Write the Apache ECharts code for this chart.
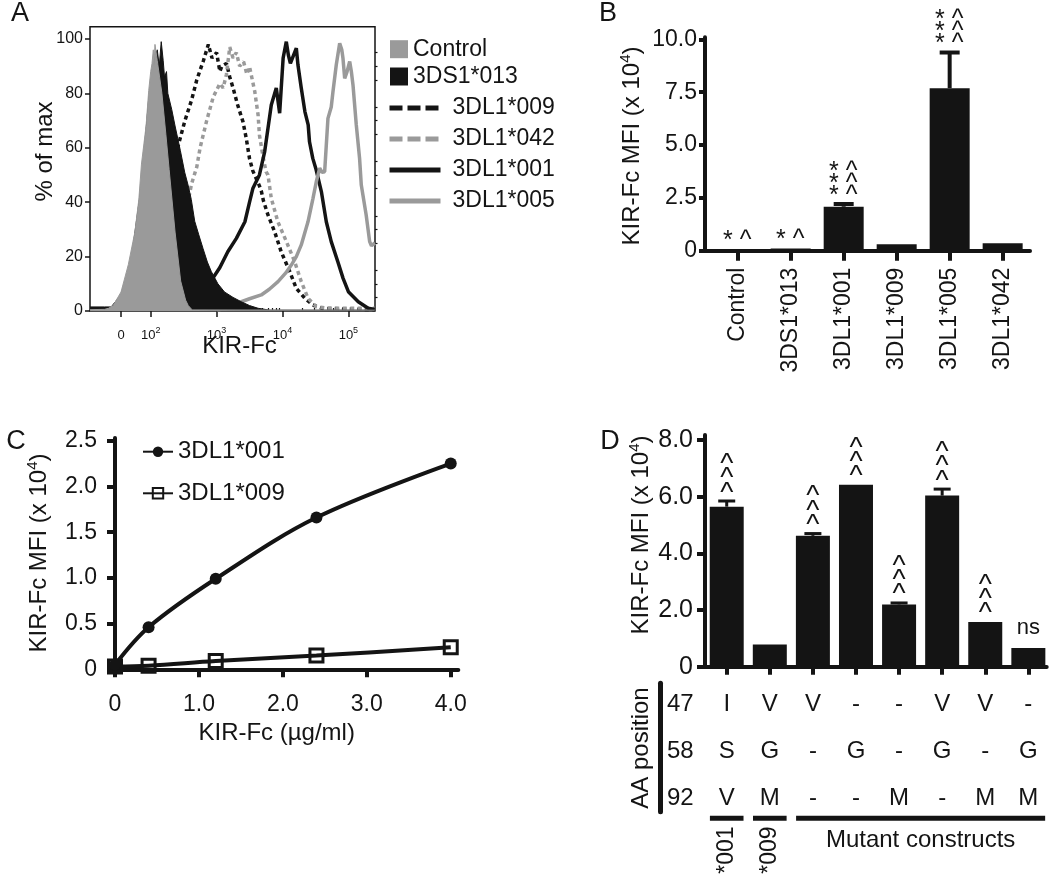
<!DOCTYPE html>
<html><head><meta charset="utf-8">
<script src="https://cdn.jsdelivr.net/npm/echarts@6/dist/echarts.min.js"></script>
<style>html,body{margin:0;padding:0;background:#fff}#c{width:1050px;height:875px}</style>
</head><body><div id="c"></div><script>
const FONT = '"Liberation Sans", Arial, Helvetica, sans-serif';
const INK = '#141414', GRAY = '#9a9a9a';

// ---------- Panel A: histograms (x in display decades of a logicle scale, y = % of max)
const A_ZERO = 1.55;
const A_XMAJOR = [A_ZERO, 2, 3, 4, 5];
const A_XLABEL_BASE = ['0', '10', '10', '10', '10'];
const A_XLABEL_EXP = ['', '2', '3', '4', '5'];
const A_XMINOR = [1.2, 1.35, 1.72, 1.87,
  2.301, 2.477, 2.602, 2.699, 2.778, 2.845, 2.903, 2.954,
  3.301, 3.477, 3.602, 3.699, 3.778, 3.845, 3.903, 3.954,
  4.301, 4.477, 4.602, 4.699, 4.778, 4.845, 4.903, 4.954, 5.301];
const A_YTICKS = [0, 20, 40, 60, 80, 100];
const A_YMINOR = [5, 10, 15, 25, 30, 35, 45, 50, 55, 65, 70, 75, 85, 90, 95];
const A_CONTROL = [[1.08,0.5],[1.30,0.6],[1.36,1],[1.43,2],[1.55,7],[1.66,17],[1.76,29],[1.82,41],[1.86,54],[1.93,68],[1.97,81],[2.00,88],[2.02,91],[2.04,96],[2.05,90],[2.065,98],[2.10,92],[2.17,80],[2.23,65],[2.28,52],[2.37,29],[2.455,11],[2.53,4],[2.57,2],[2.63,0.4],[5.40,0.3]];
const A_3DS1 = [[1.08,1.5],[1.30,1.5],[1.40,1.5],[1.55,6],[1.70,18],[1.85,45],[1.97,78],[2.06,93],[2.10,96],[2.13,90],[2.16,99],[2.19,92],[2.21,86],[2.24,88],[2.26,80],[2.32,74],[2.37,68],[2.45,59],[2.516,51],[2.57,46],[2.616,41],[2.668,33],[2.73,28],[2.794,23],[2.86,18],[2.92,14.5],[3.02,10],[3.12,7],[3.25,5],[3.375,3.4],[3.5,2],[3.63,1],[3.81,0.3],[5.40,0.3]];
const A_009 = [[2.0,0.5],[2.14,6],[2.24,21],[2.32,34],[2.344,45],[2.42,61],[2.52,70],[2.62,77.5],[2.70,85],[2.80,92],[2.875,98],[2.93,93],[3.00,95],[3.05,88],[3.08,90],[3.15,91],[3.20,86],[3.25,82],[3.32,75.7],[3.40,69.6],[3.45,63.5],[3.50,56],[3.55,51.5],[3.65,46],[3.68,44],[3.71,40.6],[3.78,35.3],[3.88,29.2],[3.98,21.8],[4.11,14.5],[4.21,8.3],[4.34,4.7],[4.46,2.2],[4.6,1],[5.40,0.5]];
const A_042 = [[2.1,0.5],[2.3,5],[2.45,20],[2.57,40.6],[2.62,46.7],[2.70,53],[2.75,60],[2.85,70],[2.95,78.7],[3.05,83.6],[3.10,82],[3.15,87],[3.20,97],[3.25,93],[3.30,95],[3.35,90],[3.41,91.6],[3.46,87],[3.50,89.8],[3.58,80.6],[3.63,72],[3.65,64.7],[3.70,57.4],[3.75,51.2],[3.78,50],[3.83,41.4],[3.93,32.8],[4.06,25.5],[4.185,18.1],[4.285,10.8],[4.387,4.7],[4.51,1.6],[4.7,1],[5.40,1]];
const A_001 = [[2.6,1],[2.75,2.5],[2.85,6],[2.95,12.3],[3.05,16],[3.17,21.8],[3.30,26.7],[3.43,32.8],[3.50,40],[3.55,45],[3.60,47.5],[3.65,50],[3.73,58.6],[3.78,67.2],[3.83,75.7],[3.906,82],[3.957,72.7],[4.01,93],[4.058,99],[4.09,94],[4.12,91],[4.15,90.4],[4.21,96.6],[4.235,90.4],[4.285,82],[4.34,73.3],[4.39,68.4],[4.41,62.2],[4.46,56.1],[4.51,52],[4.59,43.9],[4.665,32.8],[4.74,25.5],[4.84,18.1],[4.92,12],[5.0,7.1],[5.15,3.4],[5.30,1],[5.40,0.6]];
const A_005 = [[3.0,0.5],[3.2,1],[3.375,3.4],[3.5,4.5],[3.678,5.9],[3.8,8],[3.932,10.8],[4.05,14],[4.134,16.9],[4.21,20],[4.285,24.3],[4.387,32.8],[4.463,41.4],[4.513,47.5],[4.564,52.5],[4.60,51],[4.64,51.2],[4.69,70.8],[4.74,75],[4.766,80.6],[4.79,80],[4.816,90.4],[4.868,98.4],[4.90,96],[4.918,92.9],[4.944,85.5],[4.98,88],[5.02,91.7],[5.045,88],[5.07,83.1],[5.12,68.4],[5.17,56.1],[5.196,46.3],[5.27,35.3],[5.323,25.5],[5.35,24],[5.404,25]];

// ---------- Panel B
const B_CATS = ['Control', '3DS1*013', '3DL1*001', '3DL1*009', '3DL1*005', '3DL1*042'];
const B_MFI = [0.06, 0.11, 2.08, 0.30, 7.69, 0.35];
const B_SEM = [0, 0, 0.13, 0, 1.69, 0];
const B_STARS = ['*', '*', '***', '', '***', ''];
const B_CARETS = ['^', '^', '^^^', '', '^^^', ''];
const B_YTICKS = [0, 2.5, 5, 7.5, 10];

// ---------- Panel C
const C_DOSE = [0, 0.4, 1.2, 2.4, 4.0];
const C_001 = [0.05, 0.46, 0.99, 1.66, 2.25];
const C_009 = [0.03, 0.04, 0.09, 0.15, 0.24];
const C_XTICKS = [0, 1, 2, 3, 4];
const C_YTICKS = [0, 0.5, 1, 1.5, 2, 2.5];

// ---------- Panel D
const D_MFI = [5.65, 0.78, 4.62, 6.42, 2.2, 6.04, 1.58, 0.66];
const D_SEM = [0.2, 0, 0.08, 0, 0.05, 0.23, 0, 0];
const D_SIG = ['^^^', '', '^^^', '^^^', '^^^', '^^^', '^^^', 'ns'];
const D_YTICKS = [0, 2, 4, 6, 8];
const AA_POS = ['47', '58', '92'];
const AA_47 = ['I', 'V', 'V', '-', '-', 'V', 'V', '-'];
const AA_58 = ['S', 'G', '-', 'G', '-', 'G', '-', 'G'];
const AA_92 = ['V', 'M', '-', '-', 'M', '-', 'M', 'M'];
const GROUPS = [
  {label: '*001', from: 0, to: 0, rotate: true},
  {label: '*009', from: 1, to: 1, rotate: true},
  {label: 'Mutant constructs', from: 2, to: 7, rotate: false}
];

const fmt1 = v => v === 0 ? '0' : v.toFixed(1);
const base = {fontFamily: FONT, color: INK};
const idxOf = (arr, v) => arr.findIndex(a => Math.abs(a - v) < 1e-6);

function errRender(cap, lw) {
  return function (params, api) {
    const x = api.value(0), v = api.value(1), e = api.value(2);
    if (!(e > 0)) return null;
    const p0 = api.coord([x, v]), p1 = api.coord([x, v + e]);
    const st = {stroke: INK, lineWidth: lw};
    return {type: 'group', children: [
      {type: 'line', shape: {x1: p0[0], y1: p0[1], x2: p1[0], y2: p1[1]}, style: st},
      {type: 'line', shape: {x1: p1[0] - cap / 2, y1: p1[1], x2: p1[0] + cap / 2, y2: p1[1]}, style: st}
    ]};
  };
}

function bSigRender(params, api) {
  const i = params.dataIndex;
  const s = B_STARS[i], c = B_CARETS[i];
  if (!s && !c) return null;
  const p = api.coord([api.value(0), api.value(1)]);
  const n = Math.max(s.length, c.length), lines = [];
  for (let k = 0; k < n; k++) lines.push((s[k] || ' ') + ' ' + (c[k] || ' '));
  return {type: 'text', x: p[0] - 0.5, y: p[1] - 2, style: {
    text: lines.join('\n'), fontSize: 25, lineHeight: 12, fontFamily: FONT, fill: INK,
    align: 'center', verticalAlign: 'bottom'}};
}

function dSigRender(params, api) {
  const t = D_SIG[params.dataIndex];
  if (!t) return null;
  const p = api.coord([api.value(0), api.value(1)]);
  if (/^\^+$/.test(t)) {
    return {type: 'text', x: p[0], y: p[1] - 1, style: {
      text: t.split('').join('\n'), fontSize: 28, lineHeight: 14.4, fontFamily: FONT, fill: INK,
      align: 'center', verticalAlign: 'bottom'}};
  }
  return {type: 'text', x: p[0], y: p[1] - 20, style: {
    text: t, fontSize: 22, fontFamily: FONT, fill: INK, align: 'center', verticalAlign: 'middle'}};
}

const TABLE_CELLS = [];
[AA_47, AA_58, AA_92].forEach((row, r) => row.forEach((t, k) => TABLE_CELLS.push({k, r, t})));

function cellRender(params, api) {
  const c = TABLE_CELLS[params.dataIndex];
  const p = api.coord([api.value(0), api.value(1)]);
  return {type: 'text', x: p[0], y: p[1], style: {text: c.t, fontSize: 24, fontFamily: FONT, fill: INK,
    align: 'center', verticalAlign: 'middle'}};
}

const GROUP_LINE_Y = 2.435, GROUP_LABEL_Y = 2.61, GROUP_TEXT_Y = 2.9;
function groupRender(params, api) {
  const g = GROUPS[params.dataIndex];
  const a = api.coord([g.from - 0.39, GROUP_LINE_Y]), b = api.coord([g.to + 0.39, GROUP_LINE_Y]);
  const mid = (g.from + g.to) / 2;
  const children = [{type: 'line', shape: {x1: a[0], y1: a[1], x2: b[0], y2: b[1]}, style: {stroke: INK, lineWidth: 5}}];
  if (g.rotate) {
    const q = api.coord([mid, GROUP_LABEL_Y]);
    children.push({type: 'text', x: q[0], y: q[1], rotation: Math.PI / 2, style: {text: g.label, fontSize: 23,
      fontFamily: FONT, fill: INK, align: 'right', verticalAlign: 'middle'}});
  } else {
    const qq = api.coord([mid, GROUP_TEXT_Y]);
    children.push({type: 'text', x: (a[0] + b[0]) / 2, y: qq[1], style: {text: g.label, fontSize: 24,
      fontFamily: FONT, fill: INK, align: 'center', verticalAlign: 'middle'}});
  }
  return {type: 'group', children};
}

const supRich = {
  a: {fontSize: 24, lineHeight: 26, verticalAlign: 'bottom', fontFamily: FONT, color: INK},
  s: {fontSize: 15, lineHeight: 15, verticalAlign: 'top', fontFamily: FONT, color: INK}
};
function gText(x, y, text, size, rot, rich) {
  const el = {type: 'text', x, y, rotation: rot || 0, z: 10,
    style: {text, fontSize: size, fontFamily: FONT, fill: INK, align: 'center', verticalAlign: 'middle'}};
  if (rich) el.style.rich = rich;
  return el;
}
const MFI_TITLE = '{a|KIR-Fc MFI (x 10}{s|4}{a|)}';

const thick = w => ({lineStyle: {color: INK, width: w}});
const noSym = {opacity: 0};

const option = {
  animation: false,
  backgroundColor: '#fff',
  textStyle: {fontFamily: FONT},
  grid: [
    {left: 90, top: 26.7, width: 285, height: 284.3, show: true, borderColor: INK, borderWidth: 1.5, outerBoundsMode: 'none', containLabel: false},
    {left: 705, top: 37.3, width: 325, height: 213.4, outerBoundsMode: 'none', containLabel: false},
    {left: 115, top: 438, width: 343.3, height: 231.3, outerBoundsMode: 'none', containLabel: false},
    {left: 705, top: 435, width: 341.7, height: 231.7, outerBoundsMode: 'none', containLabel: false},
    {left: 705, top: 683.3, width: 341.7, height: 128.4, outerBoundsMode: 'none', containLabel: false}
  ],
  xAxis: [
    {gridIndex: 0, type: 'value', min: 1.079, max: 5.404, axisLine: {show: false}, splitLine: {show: false},
      axisTick: {customValues: A_XMAJOR, length: 6, lineStyle: {color: INK, width: 1.5}},
      axisLabel: {customValues: A_XMAJOR, margin: 15,
        formatter: v => { const i = idxOf(A_XMAJOR, v); return A_XLABEL_EXP[i] ? '{b|' + A_XLABEL_BASE[i] + '}{s|' + A_XLABEL_EXP[i] + '}' : '{b|' + A_XLABEL_BASE[i] + '}'; },
        rich: {b: {fontSize: 13, lineHeight: 16, verticalAlign: 'bottom', fontFamily: FONT, color: INK},
               s: {fontSize: 9, lineHeight: 9, verticalAlign: 'top', fontFamily: FONT, color: INK}}}},
    {gridIndex: 0, type: 'value', min: 1.079, max: 5.404, axisLine: {show: false}, splitLine: {show: false},
      axisTick: {customValues: A_XMINOR, length: 3, lineStyle: {color: INK, width: 1.2}}, axisLabel: {show: false}},
    {gridIndex: 1, type: 'value', min: -0.617, max: 5.516, splitLine: {show: false},
      axisLine: thick(4), axisTick: {customValues: [0, 1, 2, 3, 4, 5], length: 10, lineStyle: {color: INK, width: 4}},
      axisLabel: {customValues: [0, 1, 2, 3, 4, 5], formatter: v => B_CATS[Math.round(v)], rotate: 90, margin: 17, fontSize: 23, ...base}},
    {gridIndex: 2, type: 'value', min: 0, max: 4.09, splitLine: {show: false},
      axisLine: thick(4), axisTick: {customValues: C_XTICKS, length: 8, lineStyle: {color: INK, width: 4}},
      axisLabel: {customValues: C_XTICKS, formatter: fmt1, margin: 24, fontSize: 23, ...base}},
    {gridIndex: 3, type: 'value', min: -0.504, max: 7.426, splitLine: {show: false},
      axisLine: thick(4), axisTick: {customValues: [0, 1, 2, 3, 4, 5, 6, 7], length: 8, lineStyle: {color: INK, width: 4}},
      axisLabel: {show: false}},
    {gridIndex: 4, type: 'value', min: -0.504, max: 7.426, show: false}
  ],
  yAxis: [
    {gridIndex: 0, type: 'value', min: 0, max: 104.5, axisLine: {show: false}, splitLine: {show: false},
      axisTick: {customValues: A_YTICKS, length: 5, lineStyle: {color: INK, width: 1.5}},
      axisLabel: {customValues: A_YTICKS, margin: 7, fontSize: 16, ...base}},
    {gridIndex: 0, type: 'value', min: 0, max: 104.5, axisLine: {show: false}, splitLine: {show: false},
      axisTick: {customValues: A_YMINOR, length: 2.5, lineStyle: {color: INK, width: 1.2}}, axisLabel: {show: false}},
    {gridIndex: 1, type: 'value', min: 0, max: 10.1, splitLine: {show: false},
      axisLine: {onZero: false, lineStyle: {color: INK, width: 4}}, axisTick: {customValues: B_YTICKS, length: 6, lineStyle: {color: INK, width: 4}},
      axisLabel: {customValues: B_YTICKS, formatter: fmt1, margin: 8, fontSize: 23, ...base}},
    {gridIndex: 2, type: 'value', min: 0, max: 2.53, splitLine: {show: false},
      axisLine: thick(4), axisTick: {customValues: C_YTICKS, length: 8, lineStyle: {color: INK, width: 4}},
      axisLabel: {customValues: C_YTICKS, formatter: fmt1, margin: 18, fontSize: 23, ...base}},
    {gridIndex: 3, type: 'value', min: 0, max: 8.18, splitLine: {show: false},
      axisLine: {onZero: false, lineStyle: {color: INK, width: 4}}, axisTick: {customValues: D_YTICKS, length: 8, lineStyle: {color: INK, width: 4}},
      axisLabel: {customValues: D_YTICKS, formatter: fmt1, margin: 12, fontSize: 25, ...base}},
    {gridIndex: 4, type: 'value', inverse: true, min: -0.458, max: 2.293, offset: 45, splitLine: {show: false},
      axisLine: {onZero: false, lineStyle: {color: INK, width: 5}}, axisTick: {show: false},
      axisLabel: {customValues: [0, 1, 2], formatter: v => AA_POS[Math.round(v)], inside: true, margin: 7, fontSize: 24, ...base}}
  ],
  legend: [
    {data: ['Control', '3DS1*013'], left: 390, top: 37.7, padding: 0, orient: 'vertical', icon: 'rect',
      itemWidth: 18, itemHeight: 18, itemGap: 4.3, selectedMode: false,
      textStyle: {fontSize: 23, lineHeight: 22, color: INK, fontFamily: FONT}},
    {data: [
        {name: '3DL1*009', lineStyle: {type: [13, 5], width: 5}, itemStyle: noSym},
        {name: '3DL1*042', lineStyle: {type: [13, 5], width: 5}, itemStyle: noSym},
        {name: '3DL1*001', lineStyle: {width: 5}, itemStyle: noSym},
        {name: '3DL1*005', lineStyle: {width: 5}, itemStyle: noSym}],
      left: 387, top: 95, padding: 0, orient: 'vertical', itemWidth: 51, itemHeight: 14, itemGap: 5, selectedMode: false,
      textStyle: {fontSize: 23, lineHeight: 26, color: INK, fontFamily: FONT, padding: [0, 0, 0, 7]}},
    {data: ['3DL1*001 ', '3DL1*009 '], left: 142, top: 437.7, padding: 0, orient: 'vertical', itemWidth: 30, itemHeight: 13,
      itemGap: 13.6, selectedMode: false,
      textStyle: {fontSize: 24, lineHeight: 28, color: INK, fontFamily: FONT}}
  ],
  series: [
    // Panel A lines (behind fills)
    {name: '3DL1*009', type: 'line', xAxisIndex: 0, yAxisIndex: 0, data: A_009, symbol: 'none', z: 2,
      lineStyle: {color: INK, width: 3.5, type: [4, 3.5]}, itemStyle: {color: INK}},
    {name: '3DL1*042', type: 'line', xAxisIndex: 0, yAxisIndex: 0, data: A_042, symbol: 'none', z: 2,
      lineStyle: {color: GRAY, width: 3.5, type: [4, 3.5]}, itemStyle: {color: GRAY}},
    {name: '3DL1*001', type: 'line', xAxisIndex: 0, yAxisIndex: 0, data: A_001, symbol: 'none', z: 2,
      lineStyle: {color: INK, width: 3.5}, itemStyle: {color: INK}},
    {name: '3DL1*005', type: 'line', xAxisIndex: 0, yAxisIndex: 0, data: A_005, symbol: 'none', z: 2,
      lineStyle: {color: GRAY, width: 3.5}, itemStyle: {color: GRAY}},
    {name: '3DS1*013', type: 'line', xAxisIndex: 0, yAxisIndex: 0, data: A_3DS1, symbol: 'none', z: 3,
      lineStyle: {color: INK, width: 1}, itemStyle: {color: INK}, areaStyle: {color: INK, opacity: 1}},
    {name: 'Control', type: 'line', xAxisIndex: 0, yAxisIndex: 0, data: A_CONTROL, symbol: 'none', z: 4,
      lineStyle: {color: GRAY, width: 1}, itemStyle: {color: GRAY}, areaStyle: {color: GRAY, opacity: 1}},
    // Panel B
    {type: 'bar', xAxisIndex: 2, yAxisIndex: 2, data: B_MFI.map((v, i) => [i, v]), barWidth: 40,
      itemStyle: {color: INK}, z: 3},
    {type: 'custom', xAxisIndex: 2, yAxisIndex: 2, data: B_MFI.map((v, i) => [i, v, B_SEM[i]]),
      renderItem: errRender(20, 4), z: 3, clip: false},
    {type: 'custom', xAxisIndex: 2, yAxisIndex: 2, data: B_MFI.map((v, i) => [i, v + B_SEM[i]]),
      renderItem: bSigRender, z: 4, clip: false},
    // Panel C
    {name: '3DL1*001 ', type: 'line', xAxisIndex: 3, yAxisIndex: 3, data: C_DOSE.map((x, i) => [x, C_001[i]]),
      smooth: 0.35, symbol: 'circle', symbolSize: 12, clip: false,
      lineStyle: {color: INK, width: 4}, itemStyle: {color: INK}},
    {name: '3DL1*009 ', type: 'line', xAxisIndex: 3, yAxisIndex: 3, data: C_DOSE.map((x, i) => [x, C_009[i]]),
      smooth: 0.35, symbol: 'rect', symbolSize: 13, clip: false,
      lineStyle: {color: INK, width: 4}, itemStyle: {color: 'rgba(255,255,255,0)', borderColor: INK, borderWidth: 3}},
    // Panel D
    {type: 'bar', xAxisIndex: 4, yAxisIndex: 4, data: D_MFI.map((v, i) => [i, v]), barWidth: 34,
      itemStyle: {color: INK}, z: 3},
    {type: 'custom', xAxisIndex: 4, yAxisIndex: 4, data: D_MFI.map((v, i) => [i, v, D_SEM[i]]),
      renderItem: errRender(17, 3), z: 3, clip: false},
    {type: 'custom', xAxisIndex: 4, yAxisIndex: 4, data: D_MFI.map((v, i) => [i, v + D_SEM[i]]),
      renderItem: dSigRender, z: 4, clip: false},
    // Table under D
    {type: 'custom', xAxisIndex: 5, yAxisIndex: 5, data: TABLE_CELLS.map(c => [c.k, c.r]),
      renderItem: cellRender, clip: false},
    {type: 'custom', xAxisIndex: 5, yAxisIndex: 5, data: GROUPS.map(g => [g.from, g.to]),
      renderItem: groupRender, clip: false}
  ],
  graphic: [
    gText(20, 14, 'A', 27), gText(608, 14, 'B', 27), gText(16, 442, 'C', 27), gText(610, 442, 'D', 27),
    gText(45, 151.5, '% of max', 24, Math.PI / 2),
    gText(239.5, 346, 'KIR-Fc', 24),
    gText(631.7, 146, MFI_TITLE, 24, Math.PI / 2, supRich),
    gText(38.3, 553, MFI_TITLE, 24, Math.PI / 2, supRich),
    gText(276.7, 733, 'KIR-Fc (\u00b5g/ml)', 24),
    gText(640, 535, MFI_TITLE, 24, Math.PI / 2, supRich),
    gText(641.7, 748, 'AA position', 24, Math.PI / 2)
  ]
};

const chart = echarts.init(document.getElementById('c'));
chart.setOption(option);
</script></body></html>
